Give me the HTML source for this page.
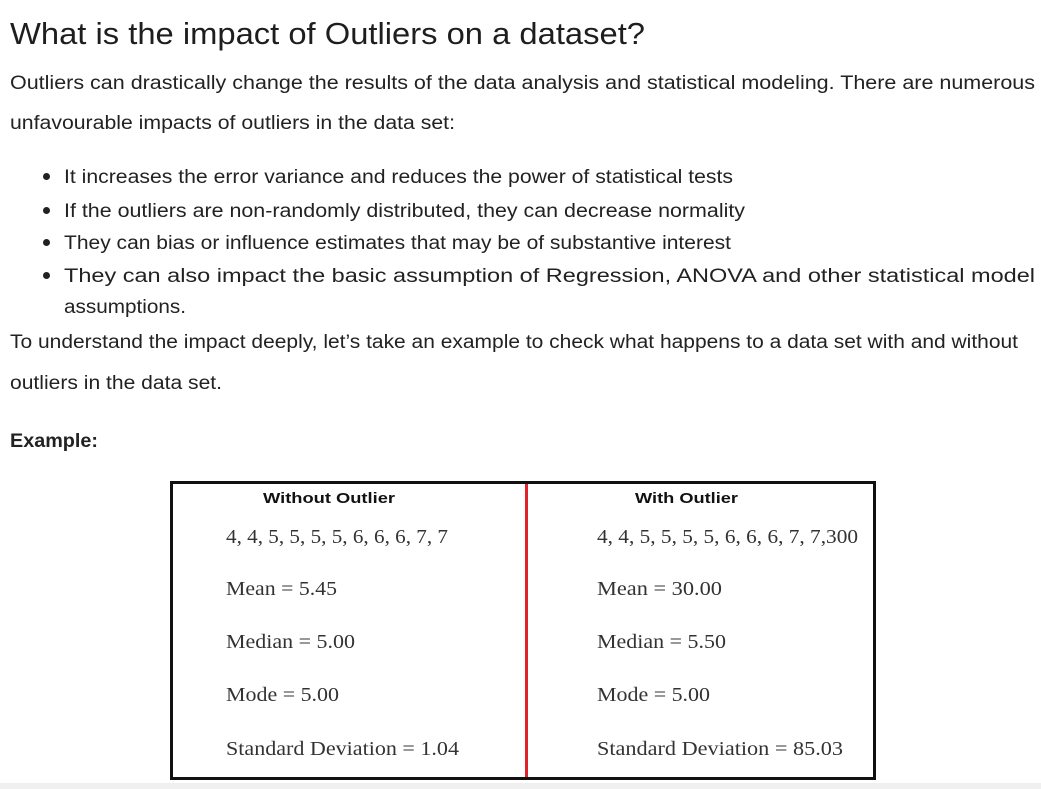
<!DOCTYPE html>
<html><head><meta charset="utf-8">
<style>
html,body{margin:0;padding:0;background:#fff;width:1041px;height:789px;overflow:hidden;position:relative;}
.t{position:absolute;white-space:nowrap;color:#222;font-family:"Liberation Sans",sans-serif;line-height:1;transform-origin:0 50%;}
.s{font-family:"Liberation Serif",serif;color:#333;font-size:20px;}
.dot{position:absolute;width:7px;height:7px;border-radius:50%;background:#222;}
</style></head><body>
<div class="t" data-w="635" style="left:10px;top:18px;font-size:31px;color:#1e1e1e">What is the impact of Outliers on a dataset?</div>
<div class="t" data-w="1025" style="left:10px;top:74px;font-size:19px">Outliers can drastically change the results of the data analysis and statistical modeling. There are numerous</div>
<div class="t" data-w="445" style="left:10px;top:114px;font-size:19px">unfavourable impacts of outliers in the data set:</div>

<div class="dot" style="left:43px;top:173px"></div>
<div class="t" data-w="669" style="left:64px;top:168px;font-size:19px">It increases the error variance and reduces the power of statistical tests</div>
<div class="dot" style="left:43px;top:207px"></div>
<div class="t" data-w="681" style="left:64px;top:202px;font-size:19px">If the outliers are non-randomly distributed, they can decrease normality</div>
<div class="dot" style="left:43px;top:239px"></div>
<div class="t" data-w="667" style="left:64px;top:234px;font-size:19px">They can bias or influence estimates that may be of substantive interest</div>
<div class="dot" style="left:43px;top:272px"></div>
<div class="t" data-w="971" style="left:64px;top:267px;font-size:19px">They can also impact the basic assumption of Regression, ANOVA and other statistical model</div>
<div class="t" data-w="122" style="left:64px;top:298px;font-size:19px">assumptions.</div>

<div class="t" data-w="1008" style="left:10px;top:333px;font-size:19px">To understand the impact deeply, let’s take an example to check what happens to a data set with and without</div>
<div class="t" data-w="212" style="left:10px;top:374px;font-size:19px">outliers in the data set.</div>
<div class="t" data-w="88" style="left:10px;top:432px;font-size:19px;font-weight:bold">Example:</div>

<div style="position:absolute;left:170px;top:481px;width:700px;height:293px;border:3px solid #111;"></div>
<div style="position:absolute;left:525px;top:484px;width:3px;height:293px;background:#e0222a"></div>

<div class="t" data-w="132" style="left:263px;top:491px;font-size:15px;font-weight:bold;color:#111">Without Outlier</div>
<div class="t" data-w="103" style="left:635px;top:491px;font-size:15px;font-weight:bold;color:#111">With Outlier</div>

<div class="t s" data-w="222" style="left:226px;top:527px">4, 4, 5, 5, 5, 5, 6, 6, 6, 7, 7</div>
<div class="t s" data-w="261" style="left:597px;top:527px">4, 4, 5, 5, 5, 5, 6, 6, 6, 7, 7,300</div>
<div class="t s" data-w="111" style="left:226px;top:579px">Mean = 5.45</div>
<div class="t s" data-w="125" style="left:597px;top:579px">Mean = 30.00</div>
<div class="t s" data-w="129" style="left:226px;top:632px">Median = 5.00</div>
<div class="t s" data-w="129" style="left:597px;top:632px">Median = 5.50</div>
<div class="t s" data-w="113" style="left:226px;top:685px">Mode = 5.00</div>
<div class="t s" data-w="113" style="left:597px;top:685px">Mode = 5.00</div>
<div class="t s" data-w="233" style="left:226px;top:739px">Standard Deviation = 1.04</div>
<div class="t s" data-w="246" style="left:597px;top:739px">Standard Deviation = 85.03</div>

<div style="position:absolute;left:0;top:783px;width:1041px;height:6px;background:#f0f0f0"></div>
<script>
document.querySelectorAll('[data-w]').forEach(function(el){
  var w=el.getBoundingClientRect().width,t=+el.getAttribute('data-w');
  if(w>0) el.style.transform='scaleX('+(t/w)+')';
});
</script>
</body></html>
